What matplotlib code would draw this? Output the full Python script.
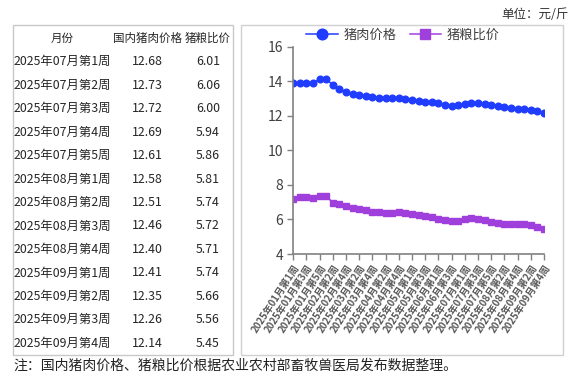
import matplotlib
matplotlib.use("Agg")
import matplotlib.pyplot as plt
from matplotlib.patches import Rectangle

plt.rcParams['font.family'] = ['Noto Sans CJK SC', 'DejaVu Sans']

# ---------------- data ----------------
table_weeks = ["2025年07月第1周", "2025年07月第2周", "2025年07月第3周", "2025年07月第4周",
               "2025年07月第5周", "2025年08月第1周", "2025年08月第2周", "2025年08月第3周",
               "2025年08月第4周", "2025年09月第1周", "2025年09月第2周", "2025年09月第3周",
               "2025年09月第4周"]
table_price = ["12.68", "12.73", "12.72", "12.69", "12.61", "12.58", "12.51", "12.46",
               "12.40", "12.41", "12.35", "12.26", "12.14"]
table_ratio = ["6.01", "6.06", "6.00", "5.94", "5.86", "5.81", "5.74", "5.72",
               "5.71", "5.74", "5.66", "5.56", "5.45"]
table_headers = ["月份", "国内猪肉价格", "猪粮比价"]

weeks_per_month = [5, 4, 4, 5, 4, 4, 5, 4, 4]   # Jan..Sep 2025
week_labels = [f"2025年{m+1:02d}月第{w}周" for m, n in enumerate(weeks_per_month)
               for w in range(1, n + 1)]

pork_price = [13.88, 13.88, 13.88, 13.90, 14.13, 14.12, 13.78, 13.55, 13.39, 13.26,
              13.20, 13.15, 13.08, 13.05, 13.03, 13.03, 13.04, 13.00, 12.94, 12.88,
              12.82, 12.78, 12.72, 12.62, 12.59, 12.60, 12.68, 12.73, 12.72, 12.69,
              12.61, 12.58, 12.51, 12.46, 12.40, 12.41, 12.35, 12.26, 12.14]
hog_grain = [7.19, 7.32, 7.32, 7.26, 7.35, 7.35, 6.97, 6.88, 6.78, 6.65,
             6.59, 6.55, 6.45, 6.42, 6.40, 6.40, 6.44, 6.40, 6.34, 6.27,
             6.18, 6.12, 6.05, 5.94, 5.92, 5.93, 6.01, 6.06, 6.00, 5.94,
             5.86, 5.81, 5.74, 5.72, 5.71, 5.74, 5.66, 5.56, 5.45]
series_names = ["猪肉价格", "猪粮比价"]

W, H = 578, 377
fig = plt.figure(figsize=(W / 100, H / 100), dpi=100)

def fx(x):
    return x / W

def fy(y):
    return 1 - y / H

# ---------------- boxes ----------------
fig.patches.append(Rectangle((fx(13), fy(355)), fx(233) - fx(13), fy(25) - fy(355),
                             transform=fig.transFigure, fill=False, ec='#c8c8c8', lw=1.0))
fig.patches.append(Rectangle((fx(241), fy(355)), fx(563) - fx(241), fy(25) - fy(355),
                             transform=fig.transFigure, fill=False, ec='#d0d0d0', lw=1.0))

# ---------------- table ----------------
col_x = [62, 147.5, 208]
tc = '#262626'
fs_t = 8.9
for cx, h in zip(col_x, table_headers):
    fig.text(fx(cx), fy(38), h, ha='center', va='center', fontsize=8.3, color=tc)
row_y0, row_dy = 61.7, 23.47
for i in range(len(table_weeks)):
    y = fy(row_y0 + i * row_dy)
    fig.text(fx(col_x[0]), y, table_weeks[i], ha='center', va='center', fontsize=fs_t, color=tc)
    fig.text(fx(col_x[1]), y, table_price[i], ha='center', va='center', fontsize=fs_t, color=tc)
    fig.text(fx(col_x[2]), y, table_ratio[i], ha='center', va='center', fontsize=fs_t, color=tc)

# ---------------- chart ----------------
ax = fig.add_axes([fx(293.3), fy(254), fx(544) - fx(293.3), fy(46.7) - fy(254)])
x = list(range(len(week_labels)))
blue = '#1f3cff'
purple = '#a040dc'
ax.plot(x, pork_price, color=blue, lw=1.1, marker='o', ms=4.8, label=series_names[0])
ax.plot(x, hog_grain, color=purple, lw=1.1, marker='s', ms=4.3, label=series_names[1])
ax.set_xlim(0, len(x) - 1)
ax.set_ylim(4, 16)
ax.set_yticks([4, 6, 8, 10, 12, 14, 16])
ax.set_xticks(x[::2])
ax.set_xticklabels(week_labels[::2], rotation=57, ha='right', va='top',
                   rotation_mode='anchor', fontsize=7, color='#595959', fontweight='bold')
ax.tick_params(axis='y', labelsize=10, colors='#404040', length=4, width=1.0, direction='out')
ax.tick_params(axis='x', length=4, width=1.0, direction='out', color='#808080', pad=2)
ax.tick_params(axis='y', color='#808080')
for s in ['top', 'right']:
    ax.spines[s].set_visible(False)
for s in ['left', 'bottom']:
    ax.spines[s].set_color('#808080')
    ax.spines[s].set_linewidth(1.2)

leg = fig.legend(loc='center', bbox_to_anchor=(fx(403), fy(35)), ncol=2, frameon=False,
                 fontsize=9.5, handlelength=2.4, columnspacing=1.0, handletextpad=0.4,
                 markerscale=1.6, labelcolor='#404040')

# ---------------- annotations ----------------
fig.text(fx(569), fy(14), "单位：元/斤", ha='right', va='center', fontsize=9, color='#333333')
fig.text(fx(13), fy(366), "注：国内猪肉价格、猪粮比价根据农业农村部畜牧兽医局发布数据整理。",
         ha='left', va='center', fontsize=10, color='#222222')

fig.savefig('out.png', dpi=100)
